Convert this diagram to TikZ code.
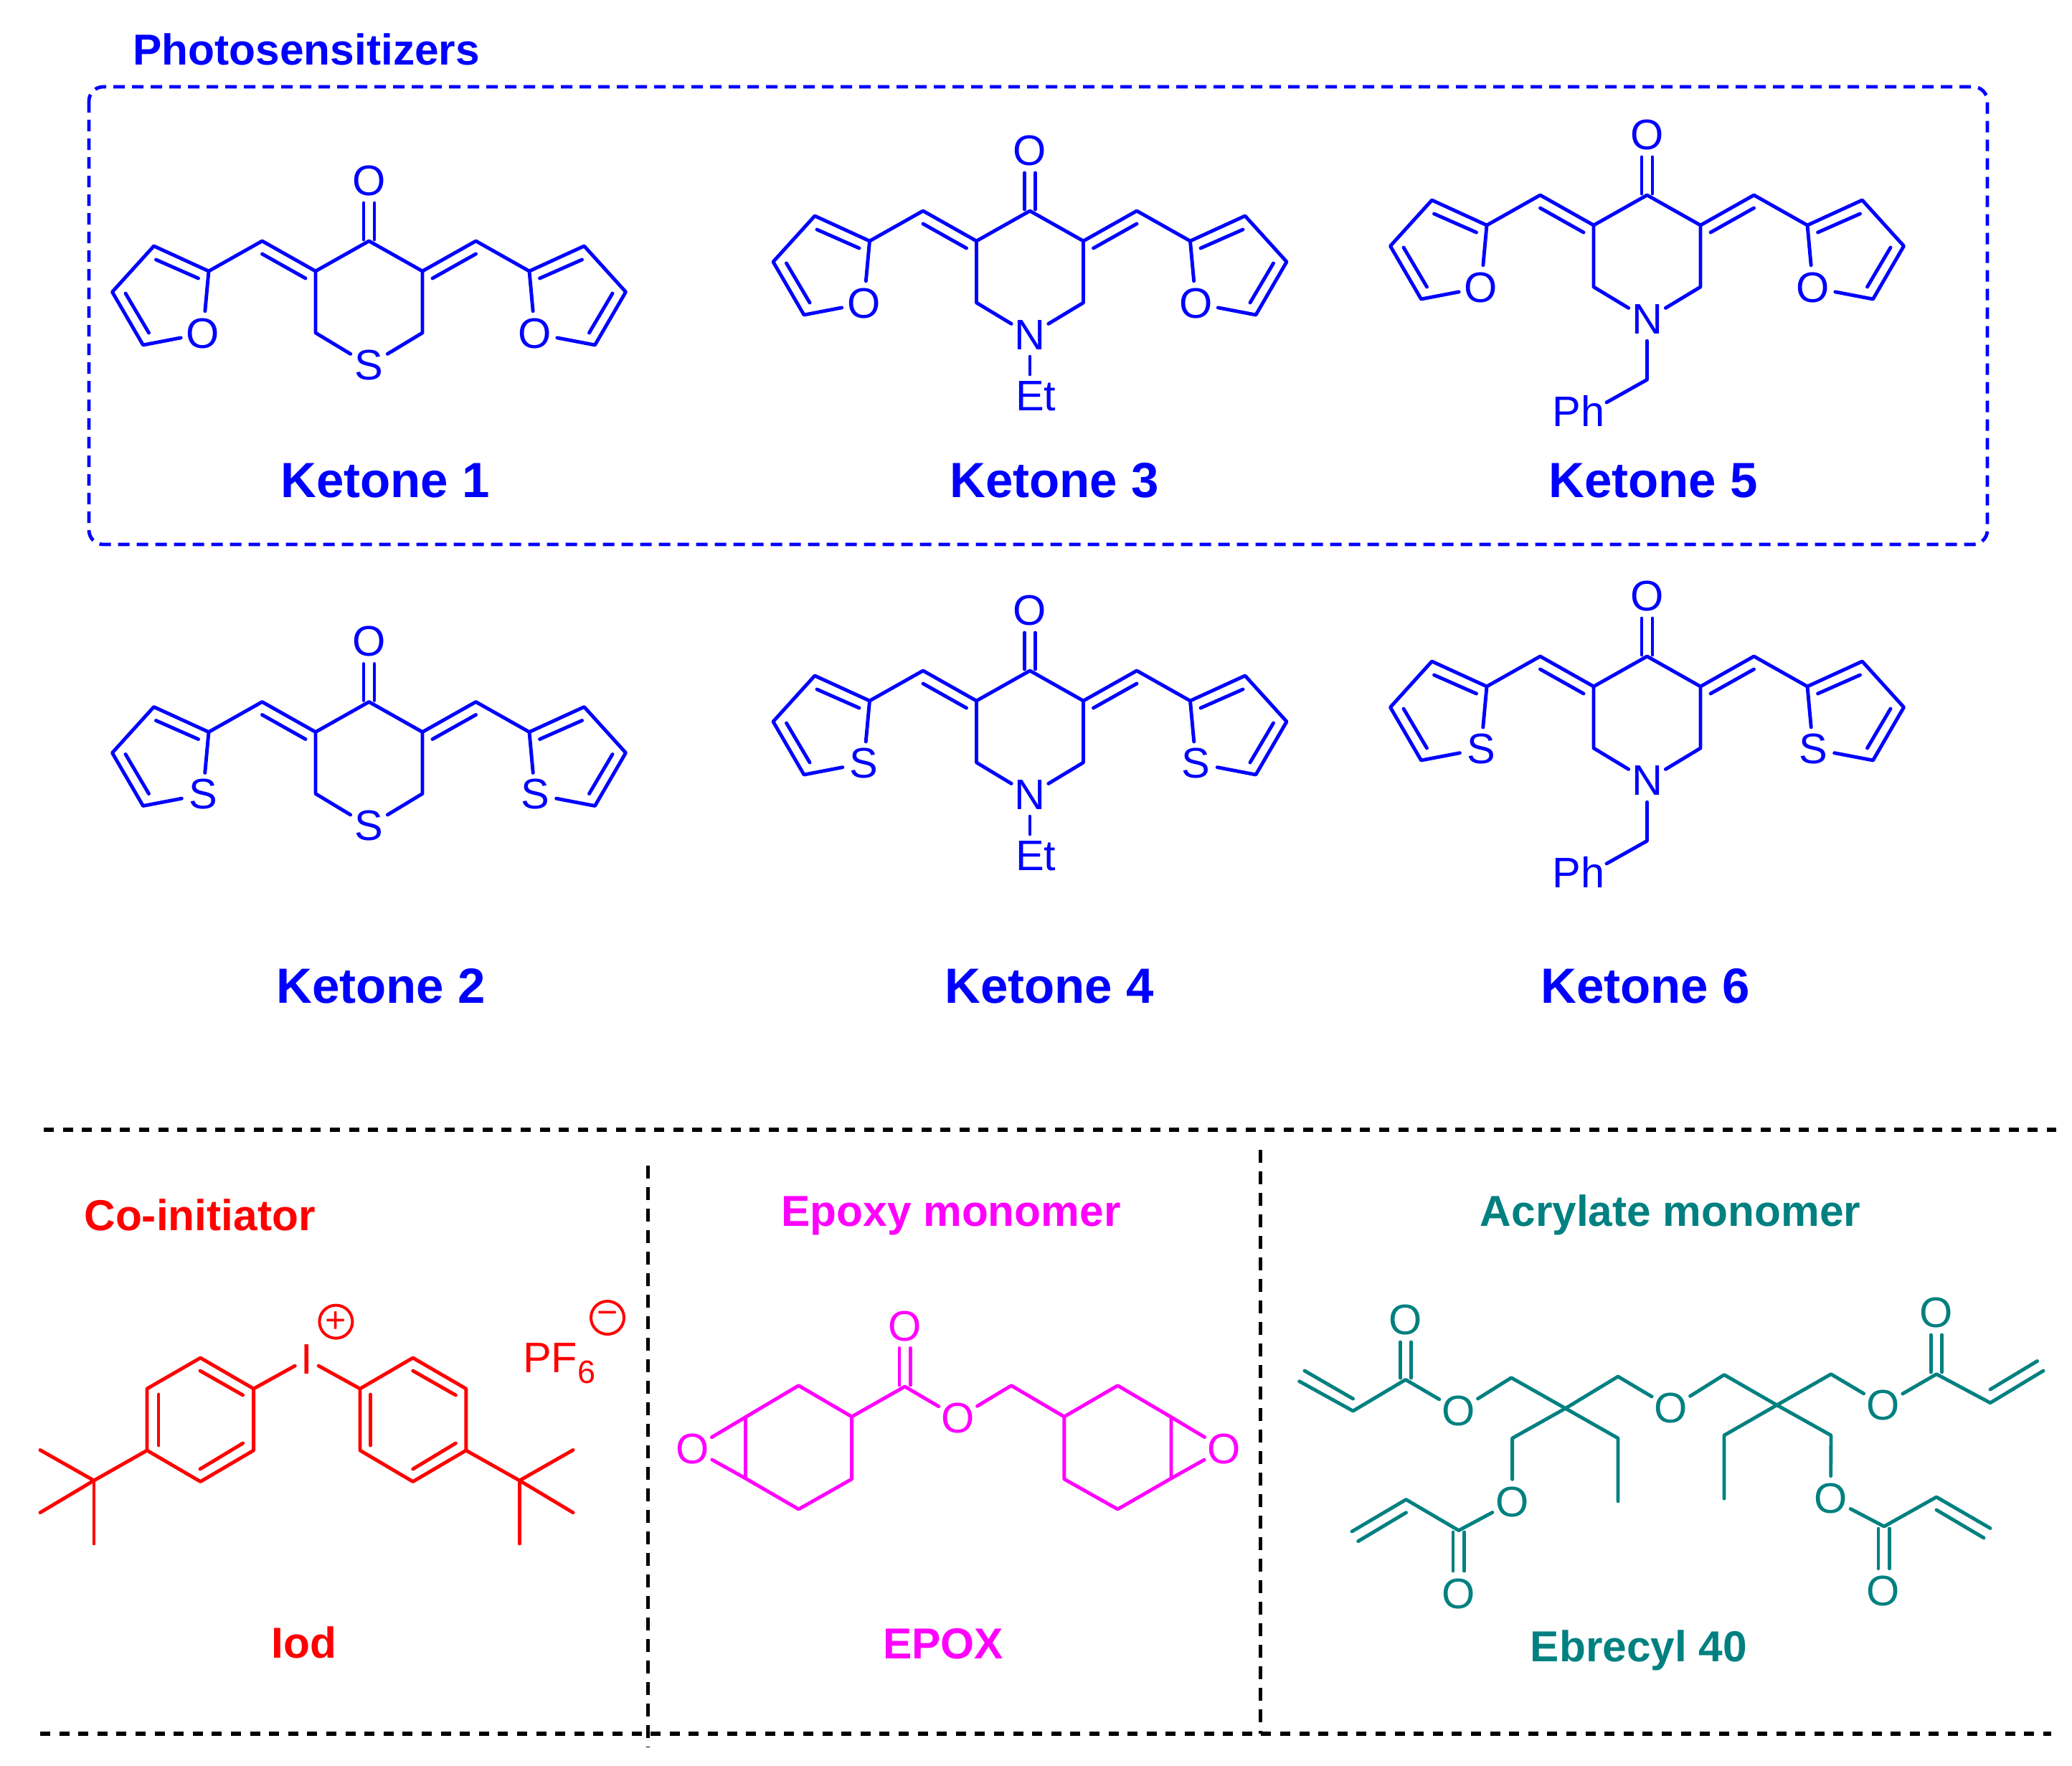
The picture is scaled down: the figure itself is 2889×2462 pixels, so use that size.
\documentclass[tikz,border=0pt]{standalone}
\usepackage{fontspec}
\setmainfont{Liberation Sans}
\definecolor{kblue}{HTML}{0000FF}
\definecolor{kred}{HTML}{FF0000}
\definecolor{kpink}{HTML}{FF00FF}
\definecolor{kteal}{HTML}{008080}
\tikzset{
  bond/.style={line width=4.9pt,line cap=round,line join=round},
  atom/.style={circle,inner sep=0pt,minimum size=60pt,font=\fontsize{59.5}{59.5}\selectfont},
  plain/.style={inner sep=0pt,font=\fontsize{59.5}{59.5}\selectfont},
  keto/.style={inner sep=0pt,anchor=base,font=\fontsize{69}{69}\selectfont\bfseries,text=kblue},
  head/.style={inner sep=0pt,anchor=base,font=\fontsize{60.4}{60.4}\selectfont\bfseries},
  charge/.style={circle,draw,line width=4pt,inner sep=0pt,minimum size=46pt,font=\fontsize{50}{50}\selectfont},
  boxdash/.style={line width=4.8pt,kblue,dash pattern=on 16pt off 10pt,rounded corners=20pt},
  hdash/.style={line width=5.4pt,black,dash pattern=on 14pt off 12.6pt},
  vdash/.style={line width=5pt,black,dash pattern=on 18pt off 12pt}
}
\newcommand\skel[3]{%
  \foreach \n/\x/\y in {c/0/0,l/-74.5/42,ll/-74.5/128,r/74.5/42,rr/74.5/128,
     lch/-149/0,lf/-223.5/42,lb/-300/7,lg/-358/71,lh/-315/145,
     rch/149/0,rf/223.5/42,rb/300/7,rg/358/71,rh/315/145,
     oa/-7.5/-2,ob/-7.5/-53,oc/7.5/-2,od/7.5/-53,
     lxa/-149/18,lxb/-88.5/52,rxa/149/18,rxb/88.5/52,
     lfa/-238/52,lfb/-297/26,lga/-339.5/73,lgb/-307/128,
     rfa/238/52,rfb/297/26,rga/339.5/73,rgb/307/128}{\coordinate (#1\n) at (\x,\y);}
  \node[atom] (#1O) at (0,-84) {O};
  \node[atom] (#1X) at (0,173) {#2};
  \node[atom] (#1A) at (-231.5,129) {#3};
  \node[atom] (#1B) at (231.5,129) {#3};
  \draw[bond] (#1X) -- (#1ll) -- (#1l) -- (#1c) -- (#1r) -- (#1rr) -- (#1X);
  \draw[bond] (#1oa) -- (#1ob);
  \draw[bond] (#1oc) -- (#1od);
  \draw[bond] (#1l) -- (#1lch) -- (#1lf) -- (#1lb) -- (#1lg) -- (#1lh) -- (#1A) -- (#1lf);
  \draw[bond] (#1r) -- (#1rch) -- (#1rf) -- (#1rb) -- (#1rg) -- (#1rh) -- (#1B) -- (#1rf);
  \draw[bond] (#1lxa) -- (#1lxb);
  \draw[bond] (#1rxa) -- (#1rxb);
  \draw[bond] (#1lfa) -- (#1lfb);
  \draw[bond] (#1lga) -- (#1lgb);
  \draw[bond] (#1rfa) -- (#1rfb);
  \draw[bond] (#1rga) -- (#1rgb);
}
\newcommand\ethyl[1]{%
  \coordinate (#1e) at (0,228);
  \draw[bond] (#1X) -- (#1e);
  \node[plain,anchor=base west] (#1Et) at (-20,278.6) {Et};
}
\newcommand\benzyl[1]{%
  \coordinate (#1m) at (0,257.3);
  \coordinate (#1p) at (-56.5,289);
  \draw[bond] (#1X) -- (#1m) -- (#1p);
  \node[plain,anchor=base west] (#1Ph) at (-132,322) {Ph};
}
\begin{document}
\begin{tikzpicture}[x=1pt,y=-1pt]
\useasboundingbox (0,0) rectangle (2889,2462);
\fill[white] (0,0) rectangle (2889,2462);

% ---- photosensitizers
\node[head,anchor=base west,text=kblue] (title) at (185.5,90.6) {Photosensitizers};
\draw[boxdash] (124,121) rectangle (2771,759);

\begin{scope}[kblue,text=kblue]
\begin{scope}[shift={(514.5,336)}]\skel{ka}{S}{O}\end{scope}
\begin{scope}[shift={(514.5,978.5)}]\skel{kb}{S}{S}\end{scope}
\begin{scope}[shift={(1436,294)}]\skel{kc}{N}{O}\ethyl{kc}\end{scope}
\begin{scope}[shift={(1436,935)}]\skel{kd}{N}{S}\ethyl{kd}\end{scope}
\begin{scope}[shift={(2296.5,272)}]\skel{ke}{N}{O}\benzyl{ke}\end{scope}
\begin{scope}[shift={(2296.5,915)}]\skel{kf}{N}{S}\benzyl{kf}\end{scope}
\end{scope}

\node[keto] (l1) at (537,693) {Ketone 1};
\node[keto] (l3) at (1470,693) {Ketone 3};
\node[keto] (l5) at (2305,693) {Ketone 5};
\node[keto] (l2) at (531,1398) {Ketone 2};
\node[keto] (l4) at (1463,1398) {Ketone 4};
\node[keto] (l6) at (2294,1398) {Ketone 6};

% ---- dividers
\coordinate (h1a) at (61,1575);
\coordinate (h1b) at (2867,1575);
\coordinate (h2a) at (56,2417);
\coordinate (h2b) at (2860,2417);
\coordinate (v1a) at (903,1625);
\coordinate (v1b) at (903,2436);
\coordinate (v2a) at (1757.5,1603);
\coordinate (v2b) at (1757.5,2417);
\draw[hdash] (h1a) -- (h1b);
\draw[hdash] (h2a) -- (h2b);
\draw[vdash] (v1a) -- (v1b);
\draw[vdash] (v2a) -- (v2b);

% ---- co-initiator
\begin{scope}[kred,text=kred]
\node[head] (coi) at (278.5,1715) {Co-initiator};
\node[head] (iod) at (424,2311.5) {Iod};
\foreach \n/\x/\y in {a1/279.5/1893,a2/353.6/1936,a3/353.6/2022,a4/279.5/2065.5,a5/205/2022,a6/205/1936,
  b1/502/1936,b2/575.7/1893,b3/649.8/1936,b4/649.8/2022,b5/575.7/2065.5,b6/502/2022,
  ai1/279/1911,ai2/338.7/1945,ai3/221/1944,ai4/221/2015,ai5/279/2048,ai6/338.7/2012,
  bi1/516.6/1944,bi2/516.6/2015,bi3/575.7/1911,bi4/635.4/1945,bi5/575.7/2048,bi6/635.4/2012,
  ta/131/2064,ta1/56/2021.5,ta2/56/2108.7,ta3/131/2152,
  tb/724.4/2064,tb1/799/2021.5,tb2/799/2108.7,tb3/724.4/2152}{\coordinate (\n) at (\x,\y);}
\node[plain,rectangle,inner xsep=8pt] (iodine) at (427.7,1895) {I};
\draw[bond] (a1) -- (a2) -- (a3) -- (a4) -- (a5) -- (a6) -- cycle;
\draw[bond] (b1) -- (b2) -- (b3) -- (b4) -- (b5) -- (b6) -- cycle;
\draw[bond] (a2) -- (iodine) -- (b1);
\draw[bond] (ai1) -- (ai2);
\draw[bond] (ai3) -- (ai4);
\draw[bond] (ai5) -- (ai6);
\draw[bond] (bi1) -- (bi2);
\draw[bond] (bi3) -- (bi4);
\draw[bond] (bi5) -- (bi6);
\draw[bond] (a5) -- (ta) -- (ta1);
\draw[bond] (ta) -- (ta2);
\draw[bond] (ta) -- (ta3);
\draw[bond] (b4) -- (tb) -- (tb1);
\draw[bond] (tb) -- (tb2);
\draw[bond] (tb) -- (tb3);
\node[charge] (plus) at (468.4,1842.6) {+};
\node[charge] (minus) at (847,1837) {−};
\node[plain,anchor=base west] (pf) at (729,1913) {PF\raisebox{-15pt}{\fontsize{45}{45}\selectfont 6}};
\end{scope}

% ---- epoxy monomer
\begin{scope}[kpink,text=kpink]
\node[head] (epm) at (1326,1709) {Epoxy monomer};
\node[head] (epox) at (1315,2312) {EPOX};
\foreach \n/\x/\y in {p1/1113.5/1931.6,p2/1187.6/1975,p3/1187.6/2062,p4/1113.5/2104,p5/1039.5/2061,p6/1039.5/1975.6,
  pc/1261.6/1933,pca/1254/1931,pcb/1254/1879.4,pcc/1269.2/1931,pcd/1269.2/1879.4,
  pm/1410/1931.6,
  q1/1483.8/1975,q2/1558.4/1931.6,q3/1633/1975.6,q4/1633/2061,q5/1558.4/2104,q6/1483.8/2062}{\coordinate (\n) at (\x,\y);}
\node[atom] (eo1) at (965.4,2019.7) {O};
\node[atom] (eo2) at (1335.7,1976.5) {O};
\node[atom] (eo3) at (1706.5,2019.7) {O};
\node[atom] (eo4) at (1261.6,1849) {O};
\draw[bond] (p1) -- (p2) -- (p3) -- (p4) -- (p5) -- (p6) -- cycle;
\draw[bond] (q1) -- (q2) -- (q3) -- (q4) -- (q5) -- (q6) -- cycle;
\draw[bond] (p6) -- (eo1) -- (p5);
\draw[bond] (q3) -- (eo3) -- (q4);
\draw[bond] (p2) -- (pc) -- (eo2) -- (pm) -- (q1);
\draw[bond] (pca) -- (pcb);
\draw[bond] (pcc) -- (pcd);
\end{scope}

% ---- acrylate monomer
\begin{scope}[kteal,text=kteal]
\node[head] (acm) at (2329,1709) {Acrylate monomer};
\node[head] (ebr) at (2285,2316.5) {Ebrecyl 40};
\foreach \n/\x/\y in {va/1811.7/1925.7,vb/1886.5/1967,via/1819/1911,vib/1886.5/1950,
  c1/1959.8/1923.4,c1a/1952.2/1921,c1b/1952.2/1871,c1c/1967.4/1921,c1d/1967.4/1871,
  m1/2107.2/1920.7,ctr/2182.7/1963.4,m2/2256/1919,
  m3/2404/1916.6,ctrb/2477.5/1958.8,m4/2553/1915.7,
  e1/2256/2005,e2/2256/2092.8,m5/2108.6/2005,
  c2/2033.9/2133.6,c2a/2026/2136,c2b/2026/2190,c2c/2041.8/2136,c2d/2041.8/2190,
  wa/1960.5/2090.5,wb/1885/2135,wia/1960.5/2108.7,wib/1893.7/2148.6,
  c3/2700/1915.7,c3a/2692.2/1913,c3b/2692.2/1861,c3c/2707.4/1913,c3d/2707.4/1861,
  xa/2775/1955.7,xb/2849/1911,xia/2775/1937,xib/2840.5/1897.5,
  f1/2404/2001,f2/2404/2089,m6/2553/2001,
  c4/2627/2128,c4a/2619/2131,c4b/2619/2186.7,c4c/2634.6/2131,c4d/2634.6/2186.7,
  ya/2700/2087,yb/2775/2130.5,yia/2700/2105,yib/2766/2144}{\coordinate (\n) at (\x,\y);}
\node[atom] (to1) at (2033.9,1966.6) {O};
\node[atom] (to2) at (2330,1963) {O};
\node[atom] (to3) at (2625.6,1958.8) {O};
\node[atom] (to4) at (2108.6,2093.7) {O};
\node[atom] (to5) at (2552.5,2089) {O};
\node[atom] (to6) at (1959.5,1840) {O};
\node[atom] (to7) at (2033.9,2222) {O};
\node[atom] (to8) at (2699.8,1830) {O};
\node[atom] (to9) at (2625.6,2217.6) {O};
\draw[bond] (va) -- (vb) -- (c1) -- (to1) -- (m1) -- (ctr) -- (e1) -- (e2);
\draw[bond] (ctr) -- (m2) -- (to2) -- (m3) -- (ctrb) -- (f1) -- (f2);
\draw[bond] (ctrb) -- (m4) -- (to3) -- (c3) -- (xa) -- (xb);
\draw[bond] (ctr) -- (m5) -- (to4) -- (c2) -- (wa) -- (wb);
\draw[bond] (ctrb) -- (m6) -- (to5) -- (c4) -- (ya) -- (yb);
\draw[bond] (via) -- (vib);
\draw[bond] (wia) -- (wib);
\draw[bond] (xia) -- (xib);
\draw[bond] (yia) -- (yib);
\draw[bond] (c1a) -- (c1b);
\draw[bond] (c1c) -- (c1d);
\draw[bond] (c2a) -- (c2b);
\draw[bond] (c2c) -- (c2d);
\draw[bond] (c3a) -- (c3b);
\draw[bond] (c3c) -- (c3d);
\draw[bond] (c4a) -- (c4b);
\draw[bond] (c4c) -- (c4d);
\end{scope}
\end{tikzpicture}
\end{document}
